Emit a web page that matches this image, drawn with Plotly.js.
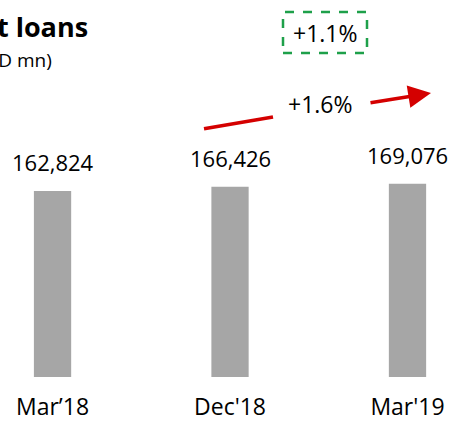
<!DOCTYPE html>
<html><head><meta charset="utf-8">
<script src="https://cdn.plot.ly/plotly-3.0.1.min.js"></script>
<style>html,body{margin:0;padding:0;background:#fff;}#chart{width:454px;height:422px;}</style>
</head><body><div id="chart"></div>
<script>
const categories = ["Mar\u201918", "Dec'18", "Mar'19"];
const netLoans = [162824, 166426, 169076];
const titleText = "Net loans";
const subtitleText = "(AED mn)";
const cagrText = "+1.1%";
const growthText = "+1.6%";

const FONT = "Open Sans, Liberation Sans, sans-serif";
const fmt = v => v.toLocaleString("en-US");

const trace = {
  type: "bar",
  x: categories,
  y: netLoans,
  marker: {color: "#a6a6a6"},
  width: 0.21,
  hoverinfo: "skip"
};

const annotations = categories.map((c, i) => ({
  x: c, y: netLoans[i], xref: "x", yref: "y",
  text: fmt(netLoans[i]), showarrow: false,
  yanchor: "bottom", yshift: 12,
  font: {family: FONT, size: 22, color: "#000"}
}));

annotations.push(
  {xref: "paper", yref: "paper", x: 90/454, y: 1 - 27/377, xanchor: "right", yanchor: "middle",
   text: "<b>" + titleText + "</b>", showarrow: false, font: {family: FONT, size: 27, color: "#000"}},
  {xref: "paper", yref: "paper", x: 54/454, y: 1 - 60/377, xanchor: "right", yanchor: "middle",
   text: subtitleText, showarrow: false, font: {family: FONT, size: 19, color: "#000"}},
  {xref: "paper", yref: "paper", x: 325/454, y: 1 - 33/377, xanchor: "center", yanchor: "middle",
   text: cagrText, showarrow: false, font: {family: FONT, size: 23, color: "#000"}},
  {xref: "paper", yref: "paper", x: 320/454, y: 1 - 104/377, xanchor: "center", yanchor: "middle",
   text: growthText, showarrow: false, font: {family: FONT, size: 23, color: "#000"}},
  {xref: "paper", yref: "paper", x: 431/454, y: 1 - 93/377, axref: "pixel", ayref: "pixel",
   ax: -62, ay: 10, text: "", showarrow: true, arrowhead: 2, arrowsize: 1.3, arrowwidth: 3.5,
   arrowcolor: "#d40000", standoff: 0}
);

const shapes = [
  {type: "rect", xref: "paper", yref: "paper", x0: 283/454, x1: 367/454, y0: 1 - 53/377, y1: 1 - 12/377,
   line: {color: "#1ea04a", width: 2.5, dash: "dash"}, fillcolor: "rgba(0,0,0,0)"},
  {type: "line", xref: "paper", yref: "paper", x0: 204/454, y0: 1 - 128.7/377, x1: 273/454, y1: 1 - 117/377,
   line: {color: "#d40000", width: 3.5}}
];

const layout = {
  width: 454, height: 422,
  margin: {l: 0, r: 0, t: 0, b: 45, pad: 0},
  paper_bgcolor: "#fff", plot_bgcolor: "#fff",
  showlegend: false,
  xaxis: {type: "category", range: [-0.296, 2.262], showline: false, showgrid: false, zeroline: false,
          ticks: "", tickfont: {family: FONT, size: 23, color: "#000"}, ticklabelstandoff: 14},
  yaxis: {range: [0, 330000], visible: false, fixedrange: true},
  annotations: annotations,
  shapes: shapes,
  font: {family: FONT}
};

Plotly.newPlot("chart", [trace], layout, {displayModeBar: false, staticPlot: true});
</script></body></html>
